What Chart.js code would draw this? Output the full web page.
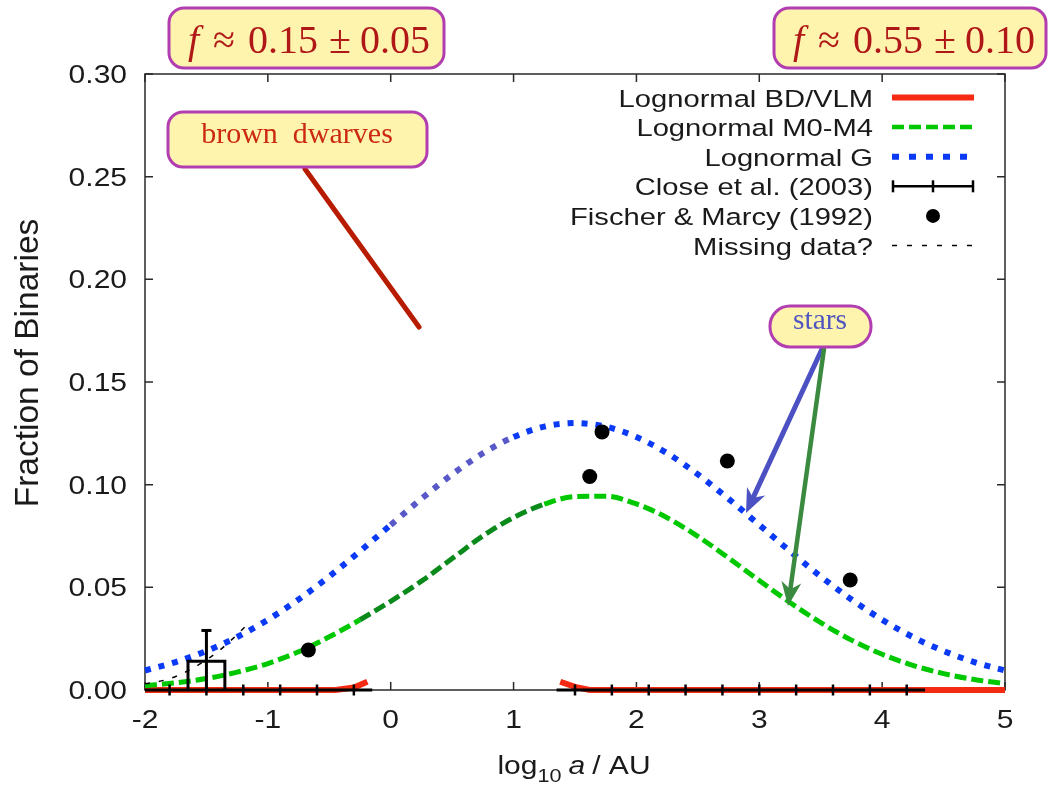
<!DOCTYPE html>
<html><head><meta charset="utf-8">
<script src="https://cdn.jsdelivr.net/npm/chart.js@4.4.1/dist/chart.umd.min.js"></script>
<style>html,body{margin:0;padding:0;background:#fff}#wrap{width:1050px;height:785px;position:relative}</style>
</head><body><div id="wrap"><canvas id="c"></canvas></div>
<script>
// ---------------- data ----------------
const gridX = [-2,-1.75,-1.5,-1.25,-1,-0.75,-0.5,-0.25,0,0.25,0.5,0.75,1,1.25,1.5,1.75,2,2.25,2.5,2.75,3,3.25,3.5,3.75,4,4.25,4.5,4.75,5];
const lognormG = [0.0095,0.0136,0.0190,0.0258,0.0342,0.0441,0.0553,0.0676,0.0804,0.0931,0.1050,0.1153,0.1232,0.1283,0.1300,0.1283,0.1232,0.1153,0.1050,0.0931,0.0804,0.0676,0.0553,0.0441,0.0342,0.0258,0.0190,0.0136,0.0095];
const lognormM = [0.0021,0.0035,0.0056,0.0087,0.0129,0.0186,0.0259,0.0342,0.0432,0.0530,0.0640,0.0750,0.0840,0.0905,0.0942,0.0944,0.0906,0.0839,0.0748,0.0643,0.0533,0.0426,0.0328,0.0243,0.0174,0.0120,0.0080,0.0051,0.0031];
const bdX = [-2,-1,-0.45,-0.3,-0.19,0.6,1.38,1.5,1.62,2,3,4,5];
const bdY = [0,0,0,0.0012,0.004,null,0.004,0.0015,0,0,0,0,0];
const fischerX = [-0.67,1.62,1.72,2.74,3.74];
const fischerY = [0.0195,0.104,0.1257,0.1115,0.0536];
const closeBinX = [-1.5];
const closeBinHalfWidth = [0.15];
const closeBinY = [0.014];
const closeErrTop = [0.029];
const closeZeroStart = [-2, 1.35];
const closeZeroEnd = [-0.15, 4.35];
const closeTickX = [-1.8,-1.5,-1.2,-0.9,-0.6,-0.3,1.5,1.8,2.1,2.4,2.7,3.0,3.3,3.6,3.9,4.2];
const missingX = [-2,-1.8,-1.6,-1.4,-1.25,-1.15];
const missingY = [0.003,0.0055,0.011,0.019,0.027,0.033];
const xTickLabels = ['-2','-1','0','1','2','3','4','5'];
const yTickLabels = ['0.00','0.05','0.10','0.15','0.20','0.25','0.30'];
const legendLabels = ['Lognormal BD/VLM','Lognormal M0-M4','Lognormal G','Close et al. (2003)','Fischer & Marcy (1992)','Missing data?'];
const xTitle = ['log','10','a','/ AU'];
const yTitle = 'Fraction of Binaries';
const noteLeft = ['f','≈','0.15','±','0.05'];
const noteRight = ['f','≈','0.55','±','0.10'];
const noteBD = 'brown  dwarves';
const noteStars = 'stars';

// ---------------- styles ----------------
const RED = '#f52a12', GREEN = '#00c800', BLUE = '#0a3af5';
const SANS = '"Liberation Sans", Arial, sans-serif';
const SERIF = '"Liberation Serif", "Times New Roman", serif';
const pts = (xs, ys) => xs.map((x, i) => ({x, y: ys[i]}));

const closeBox = [];
closeBinX.forEach((c, i) => {
  closeBox.push({x: c - closeBinHalfWidth[i], y: 0}, {x: c - closeBinHalfWidth[i], y: closeBinY[i]},
                {x: c + closeBinHalfWidth[i], y: closeBinY[i]}, {x: c + closeBinHalfWidth[i], y: 0});
});
const closeErr = [];
closeBinX.forEach((c, i) => { closeErr.push({x: c, y: 0}, {x: c, y: closeErrTop[i]}); });
const closeZero = [];
closeZeroStart.forEach((s, i) => {
  if (i > 0) closeZero.push({x: (closeZeroEnd[i-1] + s) / 2, y: null});
  closeZero.push({x: s, y: 0}, {x: closeZeroEnd[i], y: 0});
});

const datasets = [
  {data: pts(fischerX, fischerY), showLine: false, pointRadius: 7.5, pointBackgroundColor: '#000', pointBorderWidth: 0, order: 0},
  {data: closeTickX.map(x => ({x, y: 0})), showLine: false, pointStyle: 'line', rotation: 90, pointRadius: 5.5, pointBorderWidth: 2.5, pointBorderColor: '#000', order: 1},
  {data: closeZero, borderColor: '#000', borderWidth: 3, pointRadius: 0, spanGaps: false, order: 1},
  {data: closeBox, borderColor: '#000', borderWidth: 3, pointRadius: 0, tension: 0, order: 1},
  {data: closeErr, borderColor: '#000', borderWidth: 3, pointStyle: 'line', pointRadius: [0, 5], pointBorderWidth: 3, pointBorderColor: '#000', order: 1},
  {data: pts(missingX, missingY), borderColor: '#000', borderWidth: 1.5, borderDash: [5, 9], pointRadius: 0, cubicInterpolationMode: 'monotone', order: 2},
  {data: pts(gridX, lognormG), borderColor: BLUE, borderWidth: 6, borderDash: [6, 8], pointRadius: 0, cubicInterpolationMode: 'monotone', order: 3,
   segment: {borderColor: c => { const m = (c.p0.parsed.x + c.p1.parsed.x) / 2; return (m >= -0.05 && m <= 0.9) ? '#5858c8' : undefined; }}},
  {data: pts(gridX, lognormM), borderColor: GREEN, borderWidth: 5, borderDash: [12, 5], pointRadius: 0, cubicInterpolationMode: 'monotone', order: 4,
   segment: {borderColor: c => { const m = (c.p0.parsed.x + c.p1.parsed.x) / 2; return (m >= -0.3 && m <= 1.15) ? '#0a8a1a' : undefined; }}},
  {data: pts(bdX, bdY), borderColor: RED, borderWidth: 6, pointRadius: 0, tension: 0, spanGaps: false, order: 5}
];
datasets.forEach(d => { d.clip = 10; });

function sText(ctx, str, x, y, font, color, align, sx) {
  ctx.save(); ctx.font = font; ctx.fillStyle = color; ctx.textBaseline = 'alphabetic';
  ctx.translate(x, y); ctx.scale(sx || 1, 1); ctx.textAlign = align || 'left';
  ctx.fillText(str, 0, 0); ctx.restore();
}
function box(ctx, x, y, w, h, r) {
  ctx.save(); ctx.beginPath(); ctx.roundRect(x, y, w, h, r);
  ctx.fillStyle = '#fff4ae'; ctx.fill(); ctx.lineWidth = 3; ctx.strokeStyle = '#b23db0'; ctx.stroke(); ctx.restore();
}
function arrow(ctx, x1, y1, x2, y2, color, w) {
  const a = Math.atan2(y2 - y1, x2 - x1), L = 24, W = 10;
  ctx.save(); ctx.strokeStyle = color; ctx.fillStyle = color; ctx.lineWidth = w; ctx.lineCap = 'round';
  ctx.beginPath(); ctx.moveTo(x1, y1); ctx.lineTo(x2 - Math.cos(a) * 12, y2 - Math.sin(a) * 12); ctx.stroke();
  ctx.translate(x2, y2); ctx.rotate(a);
  ctx.beginPath(); ctx.moveTo(0, 0); ctx.lineTo(-L, -W); ctx.lineTo(-L * 0.7, 0); ctx.lineTo(-L, W); ctx.closePath(); ctx.fill();
  ctx.restore();
}
function mathNote(ctx, parts, x0, baseline) {
  const fs = 40, gaps = [14, 13, 11, 9];
  const fonts = parts.map((p, i) => (i === 0 ? 'italic ' : '') + fs + 'px ' + SERIF);
  let x = x0;
  parts.forEach((p, i) => {
    ctx.font = fonts[i]; const w = ctx.measureText(p).width;
    sText(ctx, p, x, baseline, fonts[i], '#b01818', 'left', 1); x += w + (gaps[i] || 0);
  });
}

const gnuplot = {
  id: 'gnuplot',
  beforeDatasetsDraw(chart) {
    const {ctx, chartArea: a, scales: {x, y}} = chart;
    ctx.save();
    ctx.strokeStyle = '#2a2a2a'; ctx.lineWidth = 1.5;
    ctx.strokeRect(a.left, a.top, a.right - a.left, a.bottom - a.top);
    ctx.beginPath();
    x.ticks.forEach(t => { const px = x.getPixelForValue(t.value);
      ctx.moveTo(px, a.bottom); ctx.lineTo(px, a.bottom - 8); ctx.moveTo(px, a.top); ctx.lineTo(px, a.top + 8); });
    y.ticks.forEach(t => { const py = y.getPixelForValue(t.value);
      ctx.moveTo(a.left, py); ctx.lineTo(a.left + 8, py); ctx.moveTo(a.right, py); ctx.lineTo(a.right - 8, py); });
    ctx.stroke(); ctx.restore();
  },
  afterDraw(chart) {
    const {ctx, chartArea: a, scales: {x, y}} = chart;
    const tf = '25px ' + SANS, col = '#1a1a1a';
    y.ticks.forEach((t, i) => sText(ctx, yTickLabels[i], 127, y.getPixelForValue(t.value) + 9, tf, col, 'right', 1.2));
    x.ticks.forEach((t, i) => sText(ctx, xTickLabels[i], x.getPixelForValue(t.value), 728, tf, col, 'center', 1.2));
    // x title
    ctx.save(); ctx.font = tf; const w1 = ctx.measureText(xTitle[0]).width * 1.2;
    ctx.font = '18px ' + SANS; const w2 = ctx.measureText(xTitle[1]).width * 1.2;
    ctx.font = 'italic ' + tf; const w3 = ctx.measureText(xTitle[2]).width * 1.2;
    ctx.font = tf; const w4 = ctx.measureText(xTitle[3]).width * 1.2; const sp = 7;
    ctx.restore();
    let xx = 574 - (w1 + w2 + w3 + w4 + 2 * sp) / 2;
    sText(ctx, xTitle[0], xx, 774, tf, col, 'left', 1.2); xx += w1;
    sText(ctx, xTitle[1], xx, 782, '18px ' + SANS, col, 'left', 1.2); xx += w2 + sp;
    sText(ctx, xTitle[2], xx, 774, 'italic ' + tf, col, 'left', 1.2); xx += w3 + sp;
    sText(ctx, xTitle[3], xx, 774, tf, col, 'left', 1.2);
    // y title
    ctx.save(); ctx.translate(38, 363); ctx.rotate(-Math.PI / 2);
    ctx.font = '33.5px ' + SANS; ctx.fillStyle = col; ctx.textAlign = 'center'; ctx.textBaseline = 'alphabetic';
    ctx.fillText(yTitle, 0, 0); ctx.restore();
    // legend
    const lf = '24.5px ' + SANS;
    legendLabels.forEach((lab, i) => {
      const cy = 97.5 + i * 29.6;
      sText(ctx, lab, 873, cy + 9, lf, col, 'right', 1.19);
      ctx.save();
      if (i === 0) { ctx.strokeStyle = RED; ctx.lineWidth = 6; line(ctx, 892, cy, 974, cy); }
      if (i === 1) { ctx.strokeStyle = GREEN; ctx.lineWidth = 4.5; ctx.setLineDash([12, 5]); line(ctx, 892, cy, 974, cy); }
      if (i === 2) { ctx.strokeStyle = BLUE; ctx.lineWidth = 6; ctx.setLineDash([7, 10]); line(ctx, 892, cy, 974, cy); }
      if (i === 3) { ctx.strokeStyle = '#000'; ctx.lineWidth = 2.5; line(ctx, 892, cy, 974, cy);
        [893, 933, 973].forEach(px => line(ctx, px, cy - 6, px, cy + 6)); }
      if (i === 4) { ctx.fillStyle = '#000'; ctx.beginPath(); ctx.arc(933, cy, 7, 0, 2 * Math.PI); ctx.fill(); }
      if (i === 5) { ctx.strokeStyle = '#000'; ctx.lineWidth = 1.5; ctx.setLineDash([5, 10]); line(ctx, 892, cy, 974, cy); }
      ctx.restore();
    });
    // annotations
    box(ctx, 169, 8, 275, 60, 15);
    mathNote(ctx, noteLeft, 188, 53);
    box(ctx, 774, 8, 272, 60, 15);
    mathNote(ctx, noteRight, 793, 53);
    ctx.save(); ctx.strokeStyle = '#b81c00'; ctx.lineWidth = 5; ctx.lineCap = 'round';
    line(ctx, 305, 169, 419, 327); ctx.restore();
    box(ctx, 168, 112, 259, 55, 15);
    sText(ctx, noteBD, 297, 143, '30px ' + SERIF, '#cc2a10', 'center', 1);
    arrow(ctx, 822, 349, 746, 513, '#4b50c2', 5);
    arrow(ctx, 824, 349, 788, 606, '#3a8a40', 4.5);
    box(ctx, 770, 306, 101, 41, 20);
    sText(ctx, noteStars, 820, 329, '29.5px ' + SERIF, '#5055c0', 'center', 1);
  }
};
function line(ctx, x1, y1, x2, y2) { ctx.beginPath(); ctx.moveTo(x1, y1); ctx.lineTo(x2, y2); ctx.stroke(); }

new Chart(document.getElementById('c'), {
  type: 'line',
  data: {datasets},
  options: {
    responsive: true, maintainAspectRatio: false, animation: false, devicePixelRatio: 1,
    layout: {padding: {top: 74, right: 45, left: 0, bottom: 0}},
    plugins: {legend: {display: false}, tooltip: {enabled: false}},
    scales: {
      x: {type: 'linear', min: -2, max: 5, ticks: {stepSize: 1, display: false}, grid: {display: false}, border: {display: false},
          afterFit: s => { s.height = 95; }},
      y: {type: 'linear', min: 0, max: 0.3, ticks: {stepSize: 0.05, display: false}, grid: {display: false}, border: {display: false},
          afterFit: s => { s.width = 145; }}
    }
  },
  plugins: [gnuplot]
});
</script></body></html>
